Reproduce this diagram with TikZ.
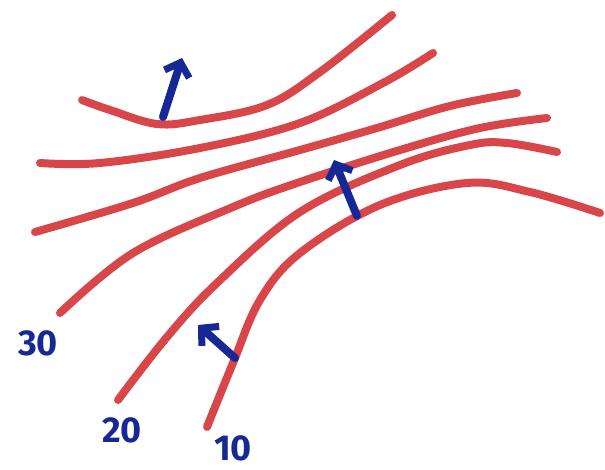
\documentclass[tikz,border=0pt]{standalone}
\usepackage{fontspec}
\setsansfont{Fira Sans}
\usetikzlibrary{arrows.meta}
\definecolor{inkred}{RGB}{216,70,74}
\definecolor{inkblue}{RGB}{22,40,150}
\tikzset{
contour/.style={draw=inkred,line width=8pt,line cap=round,line join=round},
grad/.style={draw=inkblue,line width=8pt,line cap=round,-{Straight Barb[length=12pt,width=26pt,line width=7pt]}},
level/.style={text=inkblue,font=\sffamily\bfseries\fontsize{36}{36}\selectfont,inner sep=0pt}
}

\begin{document}
\begin{tikzpicture}[x=1pt,y=-1pt]
\useasboundingbox (0,0) rectangle (605,470);
% contour lines, top to bottom
\draw[contour] plot[smooth,tension=0.6] coordinates {(82,100) (110,110) (157,124) (200,120) (267,105) (320,72) (392,15)};
\draw[contour] plot[smooth,tension=0.6] coordinates {(40,163) (100,163) (200,148) (300,123) (383,83) (433,53)};
\draw[contour] plot[smooth,tension=0.6] coordinates {(35,232) (133,203) (200,178) (300,150) (377,128) (450,106) (517,93)};
\draw[contour] plot[smooth,tension=0.6] coordinates {(60,313) (133,253) (233,207) (300,182) (400,150) (480,128) (547,118)};
\draw[contour] plot[smooth,tension=0.6] coordinates {(118,400) (167,337) (217,283) (300,212) (400,165) (470,145) (507,143) (557,152)};
\draw[contour] plot[smooth,tension=0.6] coordinates {(207,427) (233,363) (260,300) (300,253) (380,205) (467,183) (530,192) (600,213)};
% gradient arrows
\coordinate (g1a) at (163,117);
\coordinate (g1b) at (182,58);
\coordinate (g2a) at (357,216);
\coordinate (g2b) at (334,160);
\coordinate (g3a) at (235,358);
\coordinate (g3b) at (198,325);
\draw[grad] (g1a) -- (g1b);
\draw[grad] (g2a) -- (g2b);
\draw[grad] (g3a) -- (g3b);
% level labels
\node[level] (l30) at (38,343) {30};
\node[level] (l20) at (122,430) {20};
\node[level] (l10) at (233,448) {10};
\end{tikzpicture}
\end{document}
